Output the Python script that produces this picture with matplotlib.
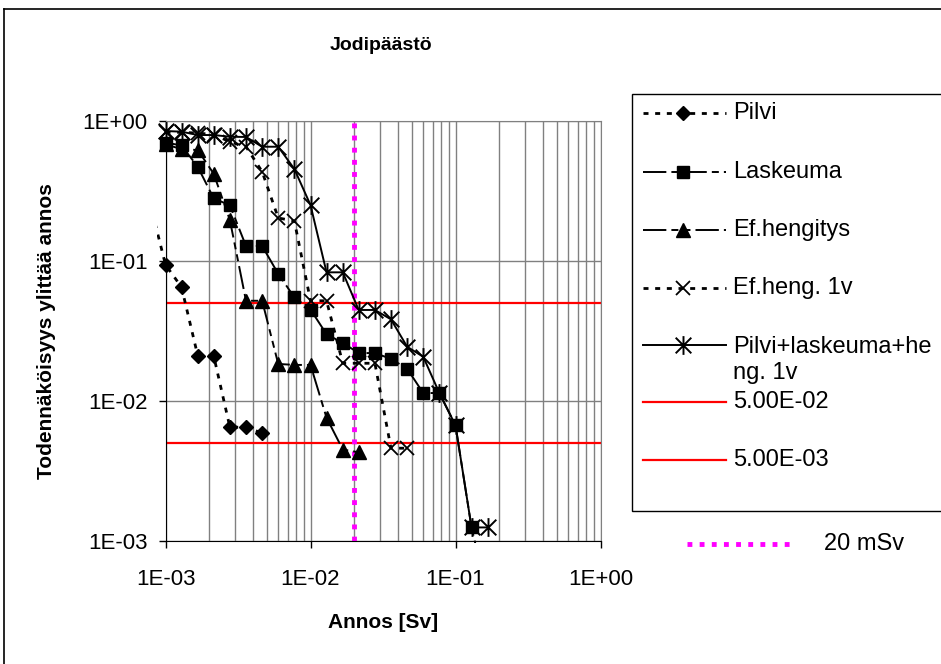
import numpy as np
import matplotlib.pyplot as plt
from matplotlib.lines import Line2D
from matplotlib.path import Path
from matplotlib.patches import Rectangle
from matplotlib.ticker import FuncFormatter, LogLocator, NullLocator

plt.rcParams['font.family'] = ['Liberation Sans', 'DejaVu Sans']

# annos [Sv], samat pisteet kaikille sarjoille
annos = [1.00e-3, 1.29e-3, 1.67e-3, 2.15e-3, 2.78e-3, 3.59e-3, 4.64e-3, 5.99e-3, 7.74e-3,
         1.00e-2, 1.29e-2, 1.67e-2, 2.15e-2, 2.78e-2, 3.59e-2, 4.64e-2, 5.99e-2, 7.74e-2,
         1.00e-1, 1.29e-1, 1.67e-1]

pilvi_x = [7.74e-4] + annos[:7]
pilvi = [0.27, 0.094, 0.065, 0.021, 0.021, 0.0065, 0.0065, 0.0059]
laskeuma_x = annos
laskeuma = [0.70, 0.67, 0.47, 0.28, 0.25, 0.128, 0.128, 0.081, 0.055, 0.045, 0.030,
            0.026, 0.022, 0.022, 0.020, 0.017, 0.0114, 0.0114, 0.0067, 0.00125, 0.0004]
hengitys_x = annos[:13]
hengitys = [0.68, 0.63, 0.62, 0.42, 0.196, 0.052, 0.052, 0.0184, 0.0181, 0.0181,
            0.0076, 0.0045, 0.0043]
heng1v_x = annos[:16]
heng1v = [0.83, 0.83, 0.82, 0.80, 0.71, 0.655, 0.435, 0.203, 0.193, 0.052, 0.052,
          0.0186, 0.0186, 0.0186, 0.0046, 0.0046]
summa_x = annos
summa = [0.848, 0.839, 0.794, 0.794, 0.772, 0.769, 0.655, 0.655, 0.454, 0.251, 0.083,
         0.083, 0.0447, 0.0447, 0.0383, 0.0244, 0.0207, 0.0114, 0.0067, 0.00125, 0.00125]

rajat = [5.00e-2, 5.00e-3]
raja_labels = ["5.00E-02", "5.00E-03"]
annosraja = 0.02
x_ticks = [1e-3, 1e-2, 1e-1, 1e0]
y_ticks = [1e-3, 1e-2, 1e-1, 1e0]

W, H = 941, 664
def fx(p): return p / W
def fy(p): return 1 - p / H

asterisk = Path([(-1, -1), (1, 1), (-1, 1), (1, -1), (0, -1.2), (0, 1.2)],
                [Path.MOVETO, Path.LINETO] * 3)

dot = (0, (1.8, 2.4))
series = [
    ("Pilvi", pilvi_x, pilvi, dict(marker='D', ms=7, ls=dot, lw=2.0)),
    ("Laskeuma", laskeuma_x, laskeuma, dict(marker='s', ms=8, ls=(0, (12, 2.6, 3.6, 2.6)), lw=1.4)),
    ("Ef.hengitys", hengitys_x, hengitys, dict(marker='^', ms=9.5, ls=(0, (12, 2.6, 3.6, 2.6, 3.6, 2.6)), lw=1.4)),
    ("Ef.heng. 1v", heng1v_x, heng1v, dict(marker='x', ms=10, mew=1.3, ls=dot, lw=2.0)),
    ("Pilvi+laskeuma+he\nng. 1v", summa_x, summa, dict(marker=asterisk, ms=13.5, mew=1.4, ls='-', lw=1.4)),
]

fig = plt.figure(figsize=(9.41, 6.64), dpi=100)
ax = fig.add_axes([fx(165.5), fy(541), 435 / W, 420 / H])
ax.set_xscale('log')
ax.set_yscale('log')
ax.set_xlim(1e-3, 1)
ax.set_ylim(1e-3, 1)

ax.xaxis.set_minor_locator(LogLocator(base=10, subs=np.arange(2, 10), numticks=10))
ax.yaxis.set_minor_locator(NullLocator())
ax.set_xticks(x_ticks)
ax.set_yticks(y_ticks)
fmt = FuncFormatter(lambda v, _: "{:.0E}".format(v))
ax.xaxis.set_major_formatter(fmt)
ax.yaxis.set_major_formatter(fmt)
ax.tick_params(which='major', direction='out', length=5, width=1, labelsize=16)
ax.tick_params(axis='x', which='major', pad=15)
ax.tick_params(axis='y', which='major', pad=8)
ax.tick_params(which='minor', length=0)
ax.grid(True, axis='x', which='both', color='#808080', lw=1)
ax.grid(True, axis='y', which='major', color='#808080', lw=1)
ax.set_axisbelow(True)
for s in ['top', 'right']:
    ax.spines[s].set_color('#808080')

for r in rajat:
    ax.axhline(r, color='red', lw=1.6, zorder=2)
ax.axvline(annosraja, color='#ff00ff', lw=3.5, ls=(0, (1, 1.5)), zorder=2)

clip = Rectangle((-0.02, -0.005), 1.04, 1.01, transform=ax.transAxes)
for label, xs, ys, st in series:
    ln, = ax.plot(xs, ys, color='black', mfc='black', mec='black', zorder=3, **st)
    ln.set_clip_path(clip)

ax.set_xlabel("Annos [Sv]", fontsize=15, fontweight='bold')
ax.xaxis.set_label_coords(0.5, (541 - 622) / 420)
ax.xaxis.label.set_va('center')
ax.set_ylabel("Todennäköisyys ylittää annos", fontsize=15, fontweight='bold')
ax.yaxis.set_label_coords((47 - 165.5) / 435, 0.5)
ax.yaxis.label.set_va('center')
fig.text(fx(381), fy(45), "Jodipäästö", fontsize=14, fontweight='bold', ha='center', va='center')

# kaavion reunat
fig.add_artist(Line2D([fx(4), fx(4)], [fy(9), 0], color='black', lw=1.2, transform=fig.transFigure))
fig.add_artist(Line2D([fx(4), 1], [fy(9), fy(9)], color='black', lw=1.2, transform=fig.transFigure))

# selite
fig.add_artist(Rectangle((fx(632), fy(511)), 1, fy(94) - fy(511), transform=fig.transFigure,
                         facecolor='white', edgecolor='black', lw=1))
rows = [113, 172, 230, 288, 345]
for (label, xs, ys, st), yy in zip(series, rows):
    st2 = dict(st)
    marker = st2.pop('marker'); ms = st2.pop('ms'); mew = st2.pop('mew', 1)
    fig.add_artist(Line2D([fx(643), fx(726)], [fy(yy), fy(yy)], color='black',
                          transform=fig.transFigure, **st2))
    fig.add_artist(Line2D([fx(683)], [fy(yy)], marker=marker, ms=ms, mew=mew, color='black',
                          mfc='black', mec='black', transform=fig.transFigure))
    if '\n' in label:
        fig.text(fx(733), fy(yy + 15), label, fontsize=17, va='center', ha='left', linespacing=1.27)
    else:
        fig.text(fx(733), fy(yy), label, fontsize=17, va='center', ha='left')
for lab, yy in zip(raja_labels, [402, 460]):
    fig.add_artist(Line2D([fx(643), fx(726)], [fy(yy), fy(yy)], color='red', lw=1.6,
                          transform=fig.transFigure))
    fig.text(fx(733), fy(yy), lab, fontsize=17, va='center', ha='left')
fig.add_artist(Line2D([fx(687), fx(795)], [fy(544), fy(544)], color='#ff00ff', lw=3.5,
                      ls=(0, (1, 1.5)), transform=fig.transFigure))
fig.text(fx(824), fy(544), "20 mSv", fontsize=17, va='center', ha='left')

fig.savefig("out.png", dpi=100)
